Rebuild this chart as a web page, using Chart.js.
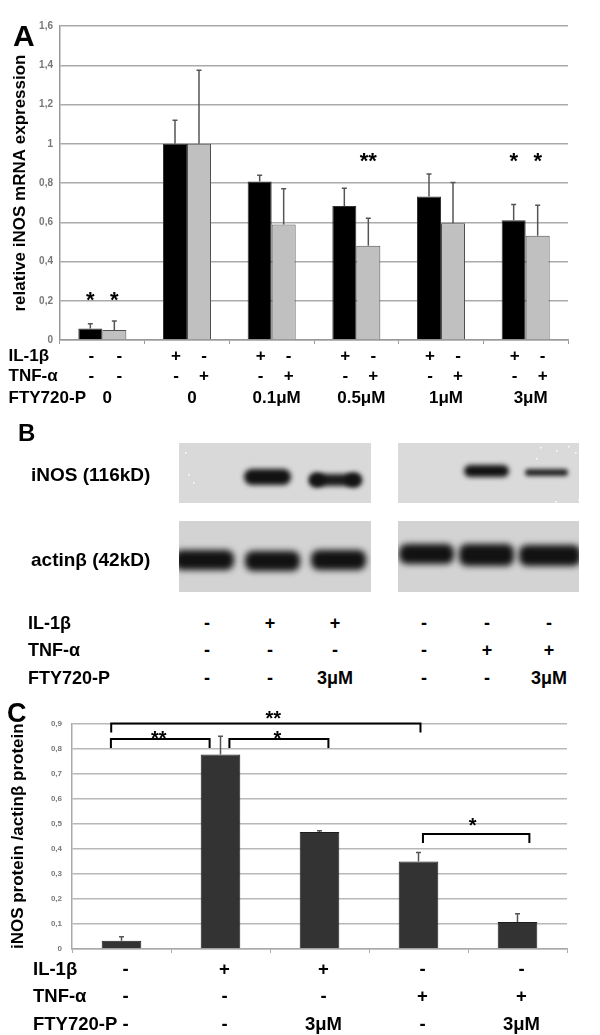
<!DOCTYPE html>
<html lang="en">
<head>
  <meta charset="UTF-8" />
  <title>iNOS expression and FTY720-P</title>
  <script src="https://cdn.jsdelivr.net/npm/chart.js"></script>
  <style>
    body {
      margin: 0;
      background: #fff;
      font-family: 'Liberation Sans', Arial, sans-serif;
    }
    #fig {
      position: relative;
      width: 600px;
      height: 1035px;
      overflow: hidden;
      background: #fff;
    }
    canvas { position: absolute; left: 0; }
    #chartA { top: 0; }
    #blots { top: 430px; }
    #chartC { top: 690px; }
    .lbl {
      position: absolute;
      font-weight: bold;
      line-height: 1;
      color: #000;
      white-space: nowrap;
    }
    .mid { transform: translateX(-50%); }
  </style>
</head>
<body>
<div id="fig">
  <canvas id="chartA" width="600" height="410"></canvas>
  <canvas id="blots" width="600" height="170"></canvas>
  <canvas id="chartC" width="600" height="345"></canvas>

  <div class="lbl" style="left:13px; top:21px; font-size:30px;">A</div>
  <div class="lbl" style="left:18px; top:421px; font-size:24px;">B</div>
  <div class="lbl" style="left:7px; top:700px; font-size:27px;">C</div>

  <div class="lbl" style="left:31px; top:465px; font-size:19px;">iNOS (116kD)</div>
  <div class="lbl" style="left:31px; top:550px; font-size:19px;">actinβ (42kD)</div>
</div>

<script>
  // ---- panel A: qPCR, relative iNOS mRNA ----
  const ftyDoseA  = ['0', '0', '0.1μM', '0.5μM', '1μM', '3μM'];
  const il1bMeanA = [0.058, 1.0, 0.808, 0.683, 0.731, 0.610];
  const il1bSdA   = [0.025, 0.12, 0.031, 0.090, 0.115, 0.080];
  const tnfMeanA  = [0.051, 1.0, 0.588, 0.480, 0.595, 0.531];
  const tnfSdA    = [0.046, 0.375, 0.183, 0.140, 0.207, 0.155];
  // sign per group: [IL-1β bar, TNF-α bar]
  const il1bRowA = [['-', '-'], ['+', '-'], ['+', '-'], ['+', '-'], ['+', '-'], ['+', '-']];
  const tnfRowA  = [['-', '-'], ['-', '+'], ['-', '+'], ['-', '+'], ['-', '+'], ['-', '+']];
  const sigA = [
    { group: 0, bar: 0, level: 0.23, mark: '*' },
    { group: 0, bar: 1, level: 0.23, mark: '*' },
    { group: 3, bar: 1, level: 0.937, mark: '**' },
    { group: 5, bar: 0, level: 0.937, mark: '*' },
    { group: 5, bar: 1, level: 0.937, mark: '*' }
  ];

  // ---- panel B: western blot lanes ----
  const il1bRowB = ['-', '+', '+', '-', '-', '-'];
  const tnfRowB  = ['-', '-', '-', '-', '+', '+'];
  const ftyRowB  = ['-', '-', '3μM', '-', '-', '3μM'];

  // ---- panel C: densitometry iNOS / actinβ ----
  const il1bRowC = ['-', '+', '+', '-', '-'];
  const tnfRowC  = ['-', '-', '-', '+', '+'];
  const ftyRowC  = ['-', '-', '3μM', '-', '3μM'];
  const meanC = [0.033, 0.776, 0.467, 0.349, 0.108];
  const sdC   = [0.016, 0.073, 0.005, 0.036, 0.033];
  const bracketsC = [
    { from: -0.104, to: 3.02, level: 0.9,   text: '**', textAt: 1.534, textLevel: 0.937 },
    { from: -0.107, to: 0.89, level: 0.838, text: '**', textAt: 0.376, textLevel: 0.858 },
    { from: 1.09,   to: 2.09, level: 0.838, text: '*',  textAt: 1.574, textLevel: 0.858 },
    { from: 3.045,  to: 4.12, level: 0.459, text: '*',  textAt: 3.548, textLevel: 0.511 }
  ];

  const FONT = '"Liberation Sans", Arial, sans-serif';
  const commaTick = v => {
    const r = Math.round(v * 10) / 10;
    return r === 0 ? '0' : String(r).replace('.', ',');
  };

  function drawErrorBars(ctx, chart, dsIndex, mean, sd, color) {
    const y = chart.scales.y;
    ctx.strokeStyle = color;
    ctx.lineWidth = 1.5;
    chart.getDatasetMeta(dsIndex).data.forEach((bar, j) => {
      const top = y.getPixelForValue(mean[j] + sd[j]);
      ctx.beginPath();
      ctx.moveTo(bar.x, bar.y);
      ctx.lineTo(bar.x, top);
      ctx.moveTo(bar.x - 2.5, top);
      ctx.lineTo(bar.x + 2.5, top);
      ctx.stroke();
    });
  }

  const panelAExtras = {
    id: 'panelAExtras',
    afterDatasetsDraw(chart) {
      const { ctx, scales: { x, y } } = chart;
      ctx.save();
      drawErrorBars(ctx, chart, 0, il1bMeanA, il1bSdA, '#555');
      drawErrorBars(ctx, chart, 1, tnfMeanA, tnfSdA, '#555');

      ctx.fillStyle = '#000';
      ctx.textAlign = 'center';
      ctx.textBaseline = 'alphabetic';
      ctx.font = 'bold 22px ' + FONT;
      sigA.forEach(s => {
        const bar = chart.getDatasetMeta(s.bar).data[s.group];
        ctx.fillText(s.mark, bar.x, y.getPixelForValue(s.level) + 0.56 * 22);
      });

      // treatment table under the axis
      const fs = 17, rowY = [355, 375, 396.5];
      ctx.font = 'bold ' + fs + 'px ' + FONT;
      ctx.textAlign = 'left';
      ['IL-1β', 'TNF-α', 'FTY720-P'].forEach((t, i) => ctx.fillText(t, 8.5, rowY[i] + 0.358 * fs));
      ctx.textAlign = 'center';
      const b0 = chart.getDatasetMeta(0).data, b1 = chart.getDatasetMeta(1).data;
      ftyDoseA.forEach((dose, j) => {
        ctx.fillText(il1bRowA[j][0], b0[j].x + 1, rowY[0] + 0.358 * fs);
        ctx.fillText(il1bRowA[j][1], b1[j].x + 5, rowY[0] + 0.358 * fs);
        ctx.fillText(tnfRowA[j][0], b0[j].x + 1, rowY[1] + 0.358 * fs);
        ctx.fillText(tnfRowA[j][1], b1[j].x + 5, rowY[1] + 0.358 * fs);
        ctx.fillText(dose, x.getPixelForValue(j) + 5, rowY[2] + 0.358 * fs);
      });
      ctx.restore();
    }
  };

  new Chart(document.getElementById('chartA'), {
    type: 'bar',
    data: {
      labels: ftyDoseA,
      datasets: [
        { label: 'IL-1β', data: il1bMeanA, backgroundColor: '#000', borderColor: '#333', borderWidth: 1 },
        { label: 'TNF-α', data: tnfMeanA, backgroundColor: '#c0c0c0', borderColor: '#505050', borderWidth: 1 }
      ]
    },
    options: {
      responsive: false,
      animation: false,
      layout: { padding: { top: 26, right: 32, left: 0, bottom: 0 } },
      datasets: { bar: { categoryPercentage: 0.567, barPercentage: 1 } },
      plugins: { legend: { display: false }, tooltip: { enabled: false } },
      scales: {
        x: {
          ticks: { display: false },
          grid: { drawOnChartArea: false, drawTicks: true, tickLength: 4, color: '#999', lineWidth: 1 },
          border: { display: true, color: '#999', width: 1.5 },
          afterFit: s => { s.height = 70; }
        },
        y: {
          min: 0, max: 1.6,
          ticks: { stepSize: 0.2, padding: 7, color: '#777', font: { family: FONT, size: 10, weight: 'bold' }, callback: commaTick },
          grid: { color: '#aaa', lineWidth: 1.5, drawTicks: false },
          border: { display: true, color: '#999', width: 1.5 },
          title: {
            display: true, text: 'relative iNOS mRNA expression', color: '#000',
            font: { family: FONT, size: 17, weight: 'bold' }, padding: { top: 10, bottom: 0 }
          },
          afterFit: s => { s.width = 60; }
        }
      }
    },
    plugins: [panelAExtras]
  });

  // ---- panel B: blot picture ----
  const bc = document.getElementById('blots').getContext('2d');
  const OY = 430;
  function membrane(x, y, w, h, shade, bands) {
    bc.save();
    bc.beginPath();
    bc.rect(x, y - OY, w, h);
    bc.clip();
    bc.fillStyle = shade;
    bc.fillRect(x, y - OY, w, h);
    bands.forEach(b => {
      bc.filter = 'blur(' + b[5] + 'px)';
      bc.fillStyle = 'rgba(18,18,18,' + b[4] + ')';
      bc.beginPath();
      bc.roundRect(b[0], b[1] - OY, b[2], b[3], Math.min(b[3] / 2, 8));
      bc.fill();
    });
    bc.filter = 'none';
    bc.restore();
  }
  membrane(179, 443, 192, 60, '#d9d9d9', [
    [244, 469, 47, 16, 1, 2.5],
    [310, 474, 50, 12, 0.95, 2.5],
    [309, 473, 16, 14, 0.95, 2.5],
    [345, 473, 17, 14, 0.95, 2.5]
  ]);
  membrane(398, 443, 181, 60, '#dadada', [
    [464, 465, 45, 12, 1, 2.5],
    [525, 469, 43, 7, 0.9, 2.2]
  ]);
  membrane(179, 521, 192, 71, '#d3d3d3', [
    [174, 550, 60, 20, 1, 3],
    [245, 551, 55, 20, 1, 3],
    [311, 550, 55, 20, 1, 3]
  ]);
  membrane(398, 521, 181, 71, '#d3d3d3', [
    [399, 544, 55, 20, 1, 3],
    [459, 544, 55, 22, 1, 3],
    [519, 545, 62, 21, 1, 3]
  ]);
  // a few specks on the membranes
  bc.fillStyle = '#fff';
  [[185, 452], [188, 474], [193, 482], [540, 447], [556, 450], [568, 446], [575, 452], [578, 499], [555, 501], [536, 458]]
    .forEach(p => bc.fillRect(p[0], p[1] - OY, 1.5, 1.5));

  // treatment table for the blots
  const laneX = [207, 270, 335, 424, 487, 549];
  const fig = document.getElementById('fig');
  function addLabel(text, left, capCenter, size, centered) {
    const d = document.createElement('div');
    d.className = 'lbl' + (centered ? ' mid' : '');
    d.style.left = left + 'px';
    d.style.top = (capCenter - 0.49 * size) + 'px';
    d.style.fontSize = size + 'px';
    d.textContent = text;
    fig.appendChild(d);
  }
  const rowYB = [623, 650, 678.3];
  ['IL-1β', 'TNF-α', 'FTY720-P'].forEach((t, i) => addLabel(t, 28, rowYB[i], 18, false));
  [il1bRowB, tnfRowB, ftyRowB].forEach((row, i) =>
    row.forEach((v, j) => addLabel(v, laneX[j], rowYB[i], 18, true)));

  // ---- panel C chart ----
  const panelCExtras = {
    id: 'panelCExtras',
    afterDatasetsDraw(chart) {
      const { ctx, scales: { x, y } } = chart;
      ctx.save();
      drawErrorBars(ctx, chart, 0, meanC, sdC, '#555');

      ctx.strokeStyle = '#000';
      ctx.lineWidth = 2;
      ctx.fillStyle = '#000';
      ctx.textAlign = 'center';
      ctx.font = 'bold 20px ' + FONT;
      bracketsC.forEach(b => {
        const x1 = x.getPixelForValue(b.from), x2 = x.getPixelForValue(b.to);
        const yy = y.getPixelForValue(b.level);
        ctx.beginPath();
        ctx.moveTo(x1, yy + 9);
        ctx.lineTo(x1, yy);
        ctx.lineTo(x2, yy);
        ctx.lineTo(x2, yy + 9);
        ctx.stroke();
        ctx.fillText(b.text, x.getPixelForValue(b.textAt), y.getPixelForValue(b.textLevel) + 0.56 * 20);
      });

      const fs = 18.5, rowY = [278.3, 305.5, 333];
      ctx.font = 'bold ' + fs + 'px ' + FONT;
      ctx.textAlign = 'left';
      ['IL-1β', 'TNF-α', 'FTY720-P'].forEach((t, i) => ctx.fillText(t, 33, rowY[i] + 0.358 * fs));
      ctx.textAlign = 'center';
      [il1bRowC, tnfRowC, ftyRowC].forEach((row, i) =>
        row.forEach((v, j) => ctx.fillText(v, x.getPixelForValue(j) + 4, rowY[i] + 0.358 * fs)));
      ctx.restore();
    }
  };

  new Chart(document.getElementById('chartC'), {
    type: 'bar',
    data: {
      labels: ['control', 'IL-1β', 'IL-1β + FTY720-P', 'TNF-α', 'TNF-α + FTY720-P'],
      datasets: [{ data: meanC, backgroundColor: '#333', borderColor: '#1e1e1e', borderWidth: 1 }]
    },
    options: {
      responsive: false,
      animation: false,
      layout: { padding: { top: 33.4, right: 33, left: 0, bottom: 0 } },
      datasets: { bar: { categoryPercentage: 1, barPercentage: 0.4 } },
      plugins: { legend: { display: false }, tooltip: { enabled: false } },
      scales: {
        x: {
          ticks: { display: false },
          grid: { drawOnChartArea: false, drawTicks: true, tickLength: 4, color: '#aaa', lineWidth: 1 },
          border: { display: true, color: '#aaa', width: 1.5 },
          afterFit: s => { s.height = 86; }
        },
        y: {
          min: 0, max: 0.9,
          ticks: { stepSize: 0.1, padding: 10, color: '#777', font: { family: FONT, size: 8, weight: 'bold' }, callback: commaTick },
          grid: { color: '#b8b8b8', lineWidth: 1.5, drawTicks: false },
          border: { display: true, color: '#aaa', width: 1.5 },
          title: {
            display: true, text: 'iNOS protein /actinβ protein', color: '#000',
            font: { family: FONT, size: 17, weight: 'bold' }, padding: { top: 8, bottom: 0 }
          },
          afterFit: s => { s.width = 72; }
        }
      }
    },
    plugins: [panelCExtras]
  });
</script>
</body>
</html>
